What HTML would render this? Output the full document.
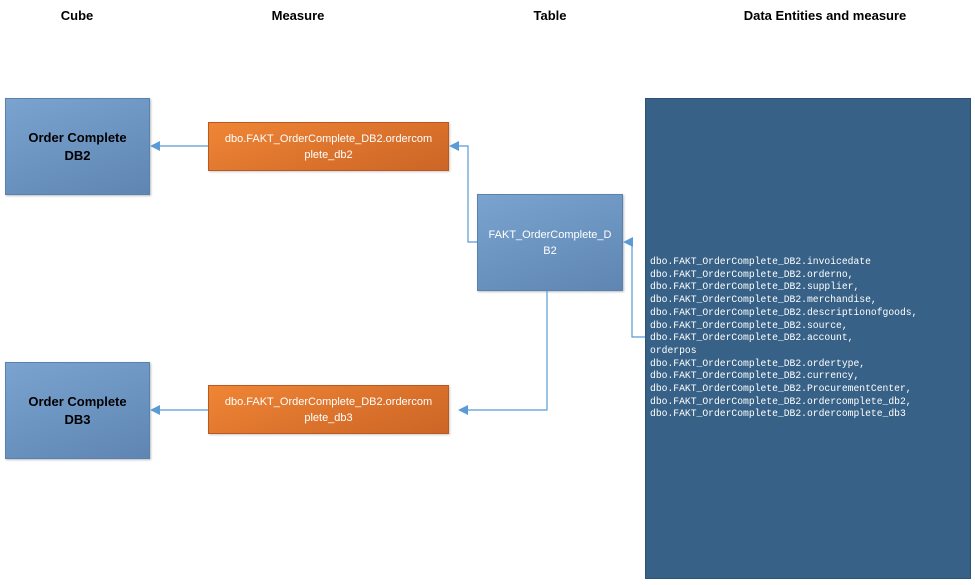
<!DOCTYPE html>
<html><head><style>
body{margin:0;width:975px;height:585px;background:#fff;position:relative;overflow:hidden;font-family:"Liberation Sans",sans-serif}
.h{position:absolute;top:8px;font-weight:bold;font-size:13px;color:#000;transform:translateX(-50%);white-space:nowrap}
.b{position:absolute;box-sizing:border-box;display:flex;align-items:center;justify-content:center;text-align:center}
.cube{background:linear-gradient(160deg,#7aa3cf,#5f86b3);border:1px solid #5a82b0;font-weight:bold;font-size:13px;line-height:18px;color:#000;box-shadow:1px 1px 2px #bbb}
.or{background:linear-gradient(160deg,#ef8535,#cc6526);border:1px solid #b85a20;color:#fff;font-size:11px;line-height:16px;box-shadow:1px 1px 2px #ccc}
pre{position:absolute;left:650px;top:256px;margin:0;font-family:"Liberation Mono",monospace;font-size:9.7px;line-height:12.7px;color:#fff}
</style></head><body>
<div class="h" style="left:77px">Cube</div>
<div class="h" style="left:298px">Measure</div>
<div class="h" style="left:550px">Table</div>
<div class="h" style="left:825px">Data Entities and measure</div>
<div class="b cube" style="left:5px;top:98px;width:145px;height:97px">Order Complete<br>DB2</div>
<div class="b cube" style="left:5px;top:362px;width:145px;height:97px">Order Complete<br>DB3</div>
<div class="b or" style="left:208px;top:122px;width:241px;height:49px">dbo.FAKT_OrderComplete_DB2.ordercom<br>plete_db2</div>
<div class="b or" style="left:208px;top:385px;width:241px;height:49px">dbo.FAKT_OrderComplete_DB2.ordercom<br>plete_db3</div>
<div class="b cube" style="left:477px;top:194px;width:146px;height:97px;font-weight:normal;color:#fff;font-size:11px;line-height:16px">FAKT_OrderComplete_D<br>B2</div>
<div style="position:absolute;left:645px;top:98px;width:326px;height:481px;background:#376186;border:1px solid #2d5275;box-sizing:border-box"></div>
<pre>dbo.FAKT_OrderComplete_DB2.invoicedate
dbo.FAKT_OrderComplete_DB2.orderno,
dbo.FAKT_OrderComplete_DB2.supplier,
dbo.FAKT_OrderComplete_DB2.merchandise,
dbo.FAKT_OrderComplete_DB2.descriptionofgoods,
dbo.FAKT_OrderComplete_DB2.source,
dbo.FAKT_OrderComplete_DB2.account,
orderpos
dbo.FAKT_OrderComplete_DB2.ordertype,
dbo.FAKT_OrderComplete_DB2.currency,
dbo.FAKT_OrderComplete_DB2.ProcurementCenter,
dbo.FAKT_OrderComplete_DB2.ordercomplete_db2,
dbo.FAKT_OrderComplete_DB2.ordercomplete_db3</pre>
<svg width="975" height="585" style="position:absolute;left:0;top:0" fill="none" stroke="#5b9bd5" stroke-width="1.2">
<polyline points="208,146 158,146"/><path d="M150,146 L160,141 L160,151Z" fill="#5b9bd5" stroke="none"/>
<polyline points="208,410 158,410"/><path d="M150,410 L160,405 L160,415Z" fill="#5b9bd5" stroke="none"/>
<polyline points="477,242 468,242 468,146 457,146"/><path d="M449,146 L459,141 L459,151Z" fill="#5b9bd5" stroke="none"/>
<polyline points="547,291 547,410 466,410"/><path d="M458,410 L468,405 L468,415Z" fill="#5b9bd5" stroke="none"/>
<polyline points="645,337 632,337 632,242 631,242"/><path d="M623,242 L633,237 L633,247Z" fill="#5b9bd5" stroke="none"/>
</svg>
</body></html>
